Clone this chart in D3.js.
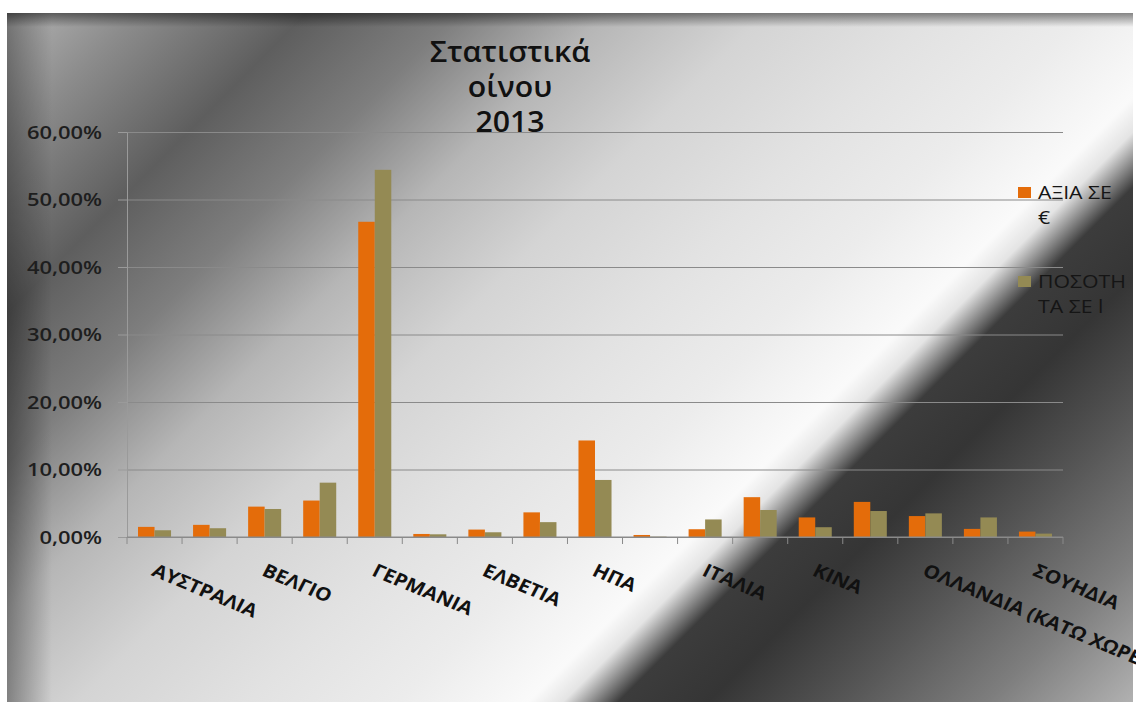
<!DOCTYPE html>
<html>
<head>
<meta charset="utf-8">
<script src="https://cdn.jsdelivr.net/npm/d3@7"></script>
<style>
  body { margin: 0; overflow: hidden; background: #fff; }
  text { font-family: "Open Sans", "DejaVu Sans", sans-serif; }
</style>
</head>
<body>
<div id="chart"></div>
<script>
// data (share of total, 2013)
var categories = ["ΑΥΣΤΡΑΛΙΑ", "ΑΥΣΤΡΙΑ", "ΒΕΛΓΙΟ", "ΓΑΛΛΙΑ", "ΓΕΡΜΑΝΙΑ", "ΔΑΝΙΑ",
    "ΕΛΒΕΤΙΑ", "ΗΝΩΜΕΝΟ ΒΑΣΙΛΕΙΟ", "ΗΠΑ", "ΙΑΠΩΝΙΑ", "ΙΤΑΛΙΑ", "ΚΑΝΑΔΑΣ",
    "ΚΙΝΑ", "ΚΥΠΡΟΣ", "ΟΛΛΑΝΔΙΑ (ΚΑΤΩ ΧΩΡΕΣ)", "ΡΩΣΙΑ", "ΣΟΥΗΔΙΑ"];
var valueEuro = [0.015, 0.018, 0.045, 0.054, 0.467, 0.0045, 0.011, 0.0365, 0.143,
    0.003, 0.0115, 0.059, 0.029, 0.052, 0.031, 0.012, 0.008];
var quantityL = [0.010, 0.013, 0.0415, 0.0805, 0.544, 0.004, 0.007, 0.022, 0.0845,
    0.0005, 0.026, 0.040, 0.0145, 0.0385, 0.035, 0.029, 0.005];
var seriesNames = ["ΑΞΙΑ ΣΕ €", "ΠΟΣΟΤΗΤΑ ΣΕ l"];
var legendLines = [["ΑΞΙΑ ΣΕ", "€"], ["ΠΟΣΟΤΗ", "ΤΑ ΣΕ l"]];
var titleLines = ["Στατιστικά", "οίνου", "2013"];
var yTicks = [0, 0.1, 0.2, 0.3, 0.4, 0.5, 0.6];

var colors = ["#E46C0A", "#948A54"];
var stretch = 1.2; // the picture is a little wide, text looks stretched

var svgWidth = 1136, svgHeight = 702;
var margin = { top: 132, right: 73, bottom: 165, left: 127 };
var width = svgWidth - margin.left - margin.right;
var height = svgHeight - margin.top - margin.bottom;

var svg = d3.select("#chart").append("svg")
    .attr("width", svgWidth)
    .attr("height", svgHeight);

// ---- background: metallic diagonal gradient
var defs = svg.append("defs");
var bg = defs.append("linearGradient")
    .attr("id", "bg")
    .attr("gradientUnits", "userSpaceOnUse")
    .attr("x1", 0).attr("y1", 0).attr("x2", 919).attr("y2", 919);
var bgStops = [
    [0, "#bababa"], [150, "#8c8c8c"], [320, "#5e5e5e"], [470, "#7e7e7e"],
    [620, "#b6b6b6"], [780, "#d4d4d4"], [950, "#e2e2e2"], [1100, "#ececec"],
    [1230, "#fafafa"], [1265, "#e4e4e4"], [1320, "#3c3c3c"], [1410, "#353535"],
    [1540, "#555555"], [1690, "#7e7e7e"], [1838, "#b2b2b2"]
];
bgStops.forEach(function (s) {
    bg.append("stop").attr("offset", s[0] / 1838).attr("stop-color", s[1]);
});

var leftShade = defs.append("linearGradient").attr("id", "leftShade")
    .attr("x1", 0).attr("x2", 1).attr("y1", 0).attr("y2", 0);
leftShade.append("stop").attr("offset", 0).attr("stop-color", "#000").attr("stop-opacity", 0.35);
leftShade.append("stop").attr("offset", 1).attr("stop-color", "#000").attr("stop-opacity", 0);

var topShade = defs.append("linearGradient").attr("id", "topShade")
    .attr("x1", 0).attr("x2", 0).attr("y1", 0).attr("y2", 1);
topShade.append("stop").attr("offset", 0).attr("stop-color", "#000").attr("stop-opacity", 0.45);
topShade.append("stop").attr("offset", 1).attr("stop-color", "#000").attr("stop-opacity", 0);

svg.append("rect").attr("width", svgWidth).attr("height", svgHeight).attr("fill", "#fff");
svg.append("rect").attr("x", 7).attr("y", 13)
    .attr("width", svgWidth - 10).attr("height", svgHeight - 13)
    .attr("fill", "url(#bg)");
svg.append("rect").attr("x", 7).attr("y", 13).attr("width", 45).attr("height", svgHeight - 13)
    .attr("fill", "url(#leftShade)");
svg.append("rect").attr("x", 7).attr("y", 13).attr("width", svgWidth - 10).attr("height", 14)
    .attr("fill", "url(#topShade)");

var chartGroup = svg.append("g")
    .attr("transform", `translate(${margin.left}, ${margin.top})`);

// ---- scales
var xScale = d3.scaleBand()
    .domain(categories)
    .range([0, width])
    .padding(0);

var xSub = d3.scaleBand()
    .domain(seriesNames)
    .range([0, xScale.bandwidth()])
    .paddingInner(0)
    .paddingOuter(0.667);

var yScale = d3.scaleLinear()
    .domain([0, 0.6])
    .range([height, 0]);

var locale = d3.formatLocale({ decimal: ",", thousands: ".", grouping: [3], currency: ["", "€"] });
var pct = locale.format(".2%");

// ---- gridlines
var grid = chartGroup.append("g")
    .call(d3.axisLeft(yScale).tickValues(yTicks).tickSize(-width).tickFormat(""));
grid.select(".domain").remove();
grid.selectAll("line").attr("stroke", "#8a8a8a").attr("stroke-width", 1);

// ---- y axis
var yAxis = chartGroup.append("g")
    .call(d3.axisLeft(yScale).tickValues(yTicks).tickSize(9).tickSizeOuter(0).tickFormat(pct));
yAxis.select(".domain").attr("stroke", "#9a9a9a");
yAxis.selectAll("line").attr("stroke", "#9a9a9a");
yAxis.selectAll("text")
    .attr("x", 0).attr("dy", null)
    .attr("transform", `translate(-25, 6) scale(1.22, 1)`)
    .attr("text-anchor", "end")
    .attr("font-size", "18px")
    .attr("font-weight", 600)
    .attr("fill", "#1e1e1e");

// ---- bars
var table = categories.map(function (c, i) {
    return { cat: c, values: [valueEuro[i], quantityL[i]] };
});

var groups = chartGroup.selectAll(".cat")
    .data(table)
    .enter()
    .append("g")
    .attr("class", "cat")
    .attr("transform", d => `translate(${xScale(d.cat)}, 0)`);

groups.selectAll("rect")
    .data(d => d.values.map((v, k) => ({ name: seriesNames[k], value: v, k: k })))
    .enter()
    .append("rect")
    .attr("x", d => xSub(d.name))
    .attr("width", xSub.bandwidth())
    .attr("y", d => yScale(d.value))
    .attr("height", d => height - yScale(d.value))
    .attr("fill", d => colors[d.k]);

// ---- x axis
var xAxisG = chartGroup.append("g")
    .attr("transform", `translate(0, ${height})`);
xAxisG.append("line")
    .attr("x1", 0).attr("x2", width)
    .attr("stroke", "#8a8a8a");
var bounds = categories.map(c => xScale(c)).concat([xScale(categories[categories.length - 1]) + xScale.bandwidth()]);
xAxisG.selectAll(".xtick")
    .data(bounds)
    .enter()
    .append("line")
    .attr("class", "xtick")
    .attr("x1", d => d).attr("x2", d => d)
    .attr("y1", 0).attr("y2", 7)
    .attr("stroke", "#8a8a8a");

var labelG = chartGroup.append("g");
labelG.selectAll("text")
    .data(categories.filter((c, i) => i % 2 === 0))
    .enter()
    .append("text")
    .attr("transform", d => `translate(${xScale(d) + xScale.bandwidth() / 2 - 4}, ${height + 38}) scale(1.12, 1) rotate(25)`)
    .attr("text-anchor", "start")
    .attr("font-size", "18.5px")
    .attr("font-weight", "bold")
    .attr("fill", "#111")
    .text(d => d);

// ---- title
svg.append("g").selectAll("text")
    .data(titleLines)
    .enter()
    .append("text")
    .attr("transform", (d, i) => `translate(510, ${62 + i * 35}) scale(1.08, 1)`)
    .attr("text-anchor", "middle")
    .attr("font-size", "28px")
    .attr("font-weight", 600)
    .attr("fill", "#111")
    .text(d => d);

// ---- legend
var legend = svg.append("g")
    .attr("transform", "translate(1018, 187)");
var items = legend.selectAll(".item")
    .data(legendLines)
    .enter()
    .append("g")
    .attr("class", "item")
    .attr("transform", (d, i) => `translate(0, ${i * 89})`);
items.append("rect")
    .attr("width", 13).attr("height", 11)
    .attr("fill", (d, i) => colors[i]);
items.selectAll("text")
    .data(d => d)
    .enter()
    .append("text")
    .attr("transform", (d, j) => `translate(20, ${12 + j * 25}) scale(1.12, 1)`)
    .attr("font-size", "19px")
    .attr("fill", "#151515")
    .text(d => d);
</script>
</body>
</html>
